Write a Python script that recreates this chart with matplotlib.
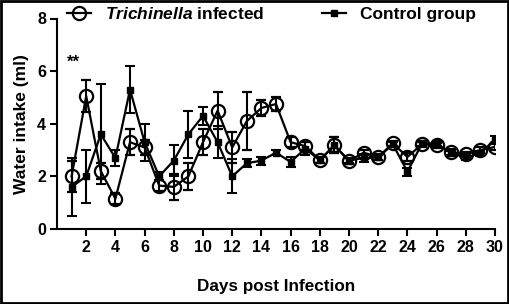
import matplotlib
matplotlib.use("Agg")
import matplotlib.pyplot as plt
from matplotlib.patches import Rectangle
from matplotlib.lines import Line2D

plt.rcParams['font.family'] = ['Liberation Sans', 'DejaVu Sans']
plt.rcParams['font.weight'] = 'bold'
plt.rcParams['mathtext.fontset'] = 'custom'
plt.rcParams['mathtext.it'] = 'Liberation Sans:italic:bold'
plt.rcParams['mathtext.rm'] = 'Liberation Sans:bold'

days = list(range(1, 31))
infected = [2.0, 5.05, 2.2, 1.15, 3.3, 3.1, 1.65, 1.6, 2.0, 3.3,
            4.5, 3.1, 4.1, 4.6, 4.75, 3.3, 3.15, 2.62, 3.18, 2.58,
            2.9, 2.74, 3.25, 2.74, 3.22, 3.18, 2.93, 2.84, 3.0, 3.12]
infected_err = [0.6, 0.6, 0.3, 0.2, 0.5, 0.3, 0.2, 0.5, 0.5, 0.5,
                0.7, 0.6, 1.1, 0.3, 0.25, 0.2, 0.15, 0.1, 0.3, 0.1,
                0.1, 0.1, 0.1, 0.15, 0.1, 0.1, 0.1, 0.1, 0.1, 0.1]
control = [1.6, 2.0, 3.6, 2.7, 5.3, 3.3, 2.0, 2.6, 3.6, 4.3,
           3.3, 2.0, 2.5, 2.6, 2.9, 2.55, 3.05, 2.62, 3.18, 2.6,
           2.7, 2.72, 3.22, 2.18, 3.25, 3.25, 2.88, 2.72, 2.88, 3.4]
control_err = [1.1, 1.0, 1.9, 0.3, 0.9, 0.7, 0.15, 0.6, 0.9, 0.35,
               0.6, 0.65, 0.15, 0.15, 0.1, 0.2, 0.25, 0.1, 0.3, 0.1,
               0.15, 0.1, 0.1, 0.15, 0.1, 0.1, 0.1, 0.1, 0.1, 0.15]
xticks = list(range(2, 31, 2))
yticks = [0, 2, 4, 6, 8]

fig = plt.figure(figsize=(5.09, 3.04), dpi=100)
ax = fig.add_axes([57/509, 1-229/304, (495-57)/509, (229-18.5)/304])

ax.errorbar(days, control, yerr=control_err, color='black', lw=1.6,
            marker='s', ms=5, capsize=3.5, capthick=1.5, elinewidth=1.5,
            zorder=3)
ax.errorbar(days, infected, yerr=infected_err, color='black', lw=1.6,
            marker='o', ms=9.5, mfc='none', mew=1.6, capsize=3.5,
            capthick=1.5, elinewidth=1.5, zorder=4)

ax.set_xlim(0, 30)
ax.set_ylim(0, 8)
ax.set_xticks(xticks)
ax.set_yticks(yticks)
ax.tick_params(axis='both', width=1.5, length=5, labelsize=11.5, pad=3)
for s in ['top', 'right']:
    ax.spines[s].set_visible(False)
for s in ['left', 'bottom']:
    ax.spines[s].set_linewidth(1.5)

ax.set_ylabel('Water intake (ml)', fontsize=12.5, fontweight='bold', labelpad=6)
ax.set_xlabel('Days post Infection', fontsize=12.3, fontweight='bold', labelpad=17)

ax.text(1.15, 6.35, '**', fontsize=12, fontweight='bold', ha='center', va='center')

h1 = Line2D([], [], color='black', lw=1.6, marker='o', ms=9.5, mfc='none', mew=1.6)
h2 = Line2D([], [], color='black', lw=1.6, marker='s', ms=5)
leg = fig.legend([h1, h2], [r'$\it{Trichinella}$ infected', 'Control group'],
                 ncol=2, frameon=False, fontsize=12.5,
                 loc='center left', bbox_to_anchor=(67/509, 1-14/304),
                 handlelength=1.4, handletextpad=0.8, columnspacing=3.3,
                 borderaxespad=0, borderpad=0)

fig.patches.append(Rectangle((0.002, 0.003), 0.996, 0.994, transform=fig.transFigure,
                             fill=False, edgecolor='black', lw=2))

fig.savefig('out.png', dpi=100)
